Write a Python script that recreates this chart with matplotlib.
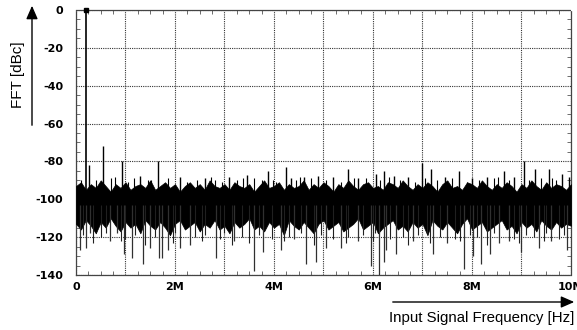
import numpy as np
import matplotlib
matplotlib.use("Agg")
import matplotlib.pyplot as plt
from matplotlib.ticker import MultipleLocator
from matplotlib.patches import FancyArrowPatch

plt.rcParams['font.family'] = ['Liberation Sans', 'DejaVu Sans']
plt.rcParams['axes.unicode_minus'] = False

# --------------------------------------------------------------
# data (frequency in MHz, level in dBc)
# --------------------------------------------------------------
fund_freq = 0.2
fund_level = 0.0

# noise floor envelope (solid band), sampled every 0.1 MHz
band_upper = [-93, -91, -95, -92, -94, -90, -93, -96, -92, -94,
              -91, -95, -93, -92, -94, -90, -95, -93, -91, -94,
              -92, -96, -93, -91, -94, -92, -95, -90, -93, -94,
              -92, -95, -91, -93, -94, -92, -96, -93, -90, -94,
              -93, -91, -95, -92, -94, -93, -90, -95, -92, -94,
              -91, -93, -96, -92, -94, -90, -93, -95, -92, -91,
              -94, -93, -95, -91, -92, -94, -90, -93, -95, -92,
              -94, -91, -93, -96, -92, -90, -94, -93, -95, -91,
              -92, -94, -90, -93, -95, -92, -94, -91, -93, -96,
              -92, -94, -90, -93, -95, -91, -94, -92, -93, -95,
              -92]
band_lower = [-113, -116, -111, -114, -118, -112, -115, -110, -114, -117,
              -112, -115, -113, -118, -111, -114, -116, -112, -115, -119,
              -113, -111, -116, -114, -112, -117, -113, -115, -111, -116,
              -114, -118, -112, -115, -113, -110, -116, -114, -117, -112,
              -115, -113, -119, -111, -114, -116, -112, -115, -118, -113,
              -111, -116, -114, -112, -117, -115, -113, -110, -116, -114,
              -112, -118, -115, -113, -111, -116, -114, -117, -112, -115,
              -113, -119, -111, -114, -116, -112, -115, -118, -113, -110,
              -116, -114, -112, -117, -115, -113, -111, -116, -114, -118,
              -112, -115, -113, -117, -111, -114, -116, -112, -115, -113,
              -114]

# upward spurs
spur_up_f = [0.27, 0.55, 0.93, 1.3, 1.66, 2.11, 2.6, 3.1, 3.45, 3.87, 4.24,
             4.34, 4.6, 4.89, 5.2, 5.5, 5.7, 6.06, 6.23, 6.43, 6.7, 6.98, 7.18,
             7.45, 7.73, 7.99, 8.3, 8.64, 8.85, 9.05, 9.27, 9.55, 9.82, 9.95]
spur_up_db = [-82, -72, -80, -87.5, -80, -88, -89, -88, -87, -85, -83,
              -89, -88, -87.5, -88, -84, -88.5, -86.5, -85, -87.5, -88, -81, -84,
              -88, -85, -89, -88, -85, -88, -80, -84, -84, -86.5, -88]

# smaller upward spikes along the band edge
tick_up_f = [0.1, 0.4, 0.7, 1.05, 1.45, 1.85, 2.25, 2.45, 2.8, 2.95, 3.25, 3.6,
             3.75, 4.05, 4.45, 4.75, 5.05, 5.35, 5.85, 6.15, 6.55, 6.85, 7.3,
             7.6, 7.9, 8.15, 8.45, 8.75, 9.15, 9.4, 9.7, 0.78, 1.18, 1.52,
             2.72, 3.38, 3.98, 4.52, 5.62, 6.32, 7.05, 8.52, 9.62]
tick_up_db = [-90, -90, -89, -91, -90, -89, -91, -90, -90, -91, -90, -89,
              -90, -91, -90, -89, -90, -91, -89, -90, -90, -91, -90,
              -89, -91, -90, -89, -90, -90, -89, -90, -88, -89, -90,
              -88, -89, -90, -88, -89, -88, -89, -88, -89]

# downward spikes
spur_dn_f = [0.08, 0.2, 0.28, 0.69, 0.83, 0.97, 1.13, 1.36, 1.5, 1.68, 1.74,
             1.85, 2.11, 2.31, 2.82, 3.2, 3.59, 3.77, 4.14, 4.4, 4.65, 4.85,
             5.05, 5.35, 5.7, 5.96, 6.13, 6.23, 6.27, 6.47, 6.8, 7.22, 7.5,
             7.83, 8.03, 8.19, 8.36, 8.55, 8.74, 9.0, 9.35, 9.6, 9.92]
spur_dn_db = [-127, -126, -118, -122, -118, -129, -131, -134, -126, -131, -131,
              -127, -126, -124, -131, -122, -138, -128, -127, -121, -134, -133,
              -126, -126, -122, -135, -140, -133, -127, -129, -122, -129, -123,
              -137, -130, -134, -129, -123, -122, -128, -126, -122, -127]

# shorter downward spikes
tick_dn_f = [0.15, 0.5, 0.6, 1.0, 1.2, 1.6, 2.0, 2.4, 2.6, 2.9, 3.0, 3.35,
             3.7, 3.95, 4.3, 4.55, 4.95, 5.2, 5.5, 5.8, 6.05, 6.35, 6.6, 6.9,
             7.1, 7.35, 7.65, 7.95, 8.1, 8.45, 8.85, 9.1, 9.25, 9.5, 9.75, 9.85,
             0.35, 0.9, 1.4, 1.95, 2.55, 3.15, 3.5, 4.2, 4.8, 5.45, 6.0,
             6.7, 7.15, 7.75, 8.3, 8.95, 9.45]
tick_dn_db = [-119, -120, -118, -121, -119, -120, -118, -120, -119, -121, -118,
              -120, -119, -121, -120, -118, -119, -121, -120, -119, -118, -121,
              -120, -119, -118, -120, -121, -119, -120, -118, -121, -119, -120,
              -118, -121, -119, -123, -122, -124, -123, -122, -124, -123,
              -122, -124, -123, -122, -124, -123, -122, -124, -123, -122]

# --------------------------------------------------------------
# figure
# --------------------------------------------------------------
fig = plt.figure(figsize=(5.77, 3.30), dpi=100)
ax = fig.add_axes([0.1317, 0.1667, 0.8579, 0.803])

band_f = np.linspace(0, 10, len(band_upper))
ax.fill_between(band_f, band_lower, band_upper, color="black", lw=0.5, zorder=3)

mid = -103
ax.vlines(spur_up_f, mid, spur_up_db, color="black", lw=1.0, zorder=3)
ax.vlines(tick_up_f, mid, tick_up_db, color="black", lw=0.8, zorder=3)
ax.vlines(spur_dn_f, mid, spur_dn_db, color="#303030", lw=0.9, zorder=3)
ax.vlines(tick_dn_f, mid, tick_dn_db, color="#202020", lw=0.8, zorder=3)

# fundamental
ax.vlines([fund_freq], mid, [fund_level], color="black", lw=1.2, zorder=4)
ax.plot([fund_freq], [fund_level], "ks", ms=3, zorder=5, clip_on=False)

ax.set_xlim(0, 10)
ax.set_ylim(-140, 0)

ax.xaxis.set_minor_locator(MultipleLocator(0.25))
ax.yaxis.set_minor_locator(MultipleLocator(5))

xlabels = ["0", "", "2M", "", "4M", "", "6M", "", "8M", "", "10M"]
ax.set_xticks(np.arange(0, 11, 1))
ax.set_xticklabels(xlabels)
ax.set_yticks(np.arange(-140, 1, 20))
ax.set_yticklabels([str(v) for v in range(-140, 1, 20)])

ax.tick_params(which="both", direction="in", top=True, right=True, width=0.6)
ax.tick_params(which="major", length=0)
ax.tick_params(which="minor", length=3, color="#555555")
ax.tick_params(axis="y", pad=9)
ax.tick_params(axis="x", pad=5)
for lab in ax.get_xticklabels() + ax.get_yticklabels():
    lab.set_fontfamily("DejaVu Sans")
    lab.set_fontweight("bold")
    lab.set_fontsize(8)

ax.grid(True, which="major", linestyle=(0, (1, 1)), color="#333333", lw=0.8)
for s in ax.spines.values():
    s.set_linestyle((0, (1, 1)))
    s.set_linewidth(0.9)
    s.set_color("#444444")

# axis labels with arrows
fig.text(18 / 577, 1 - 75 / 330, "FFT [dBc]", rotation=90, ha="center",
         va="center", fontsize=11)
fig.add_artist(FancyArrowPatch(
    (32 / 577, 1 - 128 / 330), (32 / 577, 1 - 3 / 330),
    transform=fig.transFigure, arrowstyle="-|>,head_length=8,head_width=3.5",
    color="black", lw=1.0, mutation_scale=1))

fig.text(574 / 577, 1 - 318 / 330, "Input Signal Frequency [Hz]", ha="right",
         va="center", fontsize=10.8)
fig.add_artist(FancyArrowPatch(
    (390 / 577, 1 - 302 / 330), (577 / 577, 1 - 302 / 330),
    transform=fig.transFigure, arrowstyle="-|>,head_length=8,head_width=3.5",
    color="black", lw=1.0, mutation_scale=1))

fig.savefig("out.png", dpi=100)
